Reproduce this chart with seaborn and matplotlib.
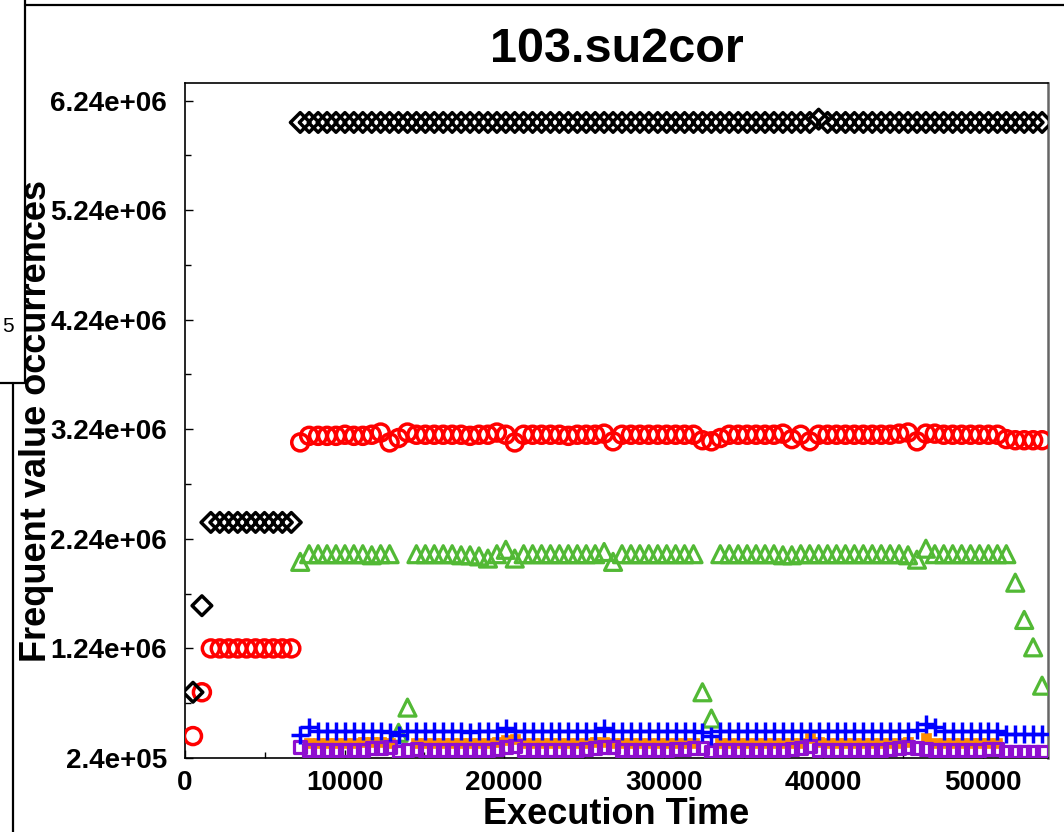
import numpy as np
import matplotlib
matplotlib.use("Agg")
import matplotlib.pyplot as plt
from matplotlib.lines import Line2D
import seaborn as sns

nan = float("nan")

# sample times (execution time)
time = [500, 1060, 1620, 2180, 2740, 3300, 3860, 4420, 4980, 5540, 6100, 6660,
        7220, 7780, 8340, 8900, 9460, 10020, 10580, 11140, 11700, 12260, 12820, 13380,
        13940, 14500, 15060, 15620, 16180, 16740, 17300, 17860, 18420, 18980, 19540, 20100,
        20660, 21220, 21780, 22340, 22900, 23460, 24020, 24580, 25140, 25700, 26260, 26820,
        27380, 27940, 28500, 29060, 29620, 30180, 30740, 31300, 31860, 32420, 32980, 33540,
        34100, 34660, 35220, 35780, 36340, 36900, 37460, 38020, 38580, 39140, 39700, 40260,
        40820, 41380, 41940, 42500, 43060, 43620, 44180, 44740, 45300, 45860, 46420, 46980,
        47540, 48100, 48660, 49220, 49780, 50340, 50900, 51460, 52020, 52580, 53140, 53700]

# values in millions of occurrences
black = [0.84, 1.63, 2.39, 2.39, 2.39, 2.39, 2.39, 2.39, 2.39, 2.39, 2.39, 2.39,
         6.04, 6.04, 6.04, 6.04, 6.04, 6.04, 6.04, 6.04, 6.04, 6.04, 6.04, 6.04,
         6.04, 6.04, 6.04, 6.04, 6.04, 6.04, 6.04, 6.04, 6.04, 6.04, 6.04, 6.04,
         6.04, 6.04, 6.04, 6.04, 6.04, 6.04, 6.04, 6.04, 6.04, 6.04, 6.04, 6.04,
         6.04, 6.04, 6.04, 6.04, 6.04, 6.04, 6.04, 6.04, 6.04, 6.04, 6.04, 6.04,
         6.04, 6.04, 6.04, 6.04, 6.04, 6.04, 6.04, 6.04, 6.04, 6.04, 6.07, 6.04,
         6.04, 6.04, 6.04, 6.04, 6.04, 6.04, 6.04, 6.04, 6.04, 6.04, 6.04, 6.04,
         6.04, 6.04, 6.04, 6.04, 6.04, 6.04, 6.04, 6.04, 6.04, 6.04, 6.04, 6.04]

red = [0.44, 0.84, 1.24, 1.24, 1.24, 1.24, 1.24, 1.24, 1.24, 1.24, 1.24, 1.24,
       3.12, 3.18, 3.18, 3.18, 3.18, 3.19, 3.18, 3.18, 3.19, 3.21, 3.12, 3.16,
       3.21, 3.19, 3.19, 3.19, 3.19, 3.19, 3.19, 3.18, 3.19, 3.19, 3.21, 3.19,
       3.12, 3.19, 3.19, 3.19, 3.19, 3.19, 3.18, 3.19, 3.19, 3.19, 3.20, 3.13,
       3.19, 3.19, 3.19, 3.19, 3.19, 3.19, 3.19, 3.19, 3.19, 3.14, 3.13, 3.16,
       3.19, 3.19, 3.19, 3.19, 3.19, 3.19, 3.20, 3.15, 3.19, 3.13, 3.19, 3.19,
       3.19, 3.19, 3.19, 3.19, 3.19, 3.19, 3.19, 3.20, 3.21, 3.13, 3.20, 3.20,
       3.19, 3.19, 3.19, 3.19, 3.19, 3.19, 3.19, 3.15, 3.14, 3.14, 3.14, 3.14]

green = [nan, nan, nan, nan, nan, nan, nan, nan, nan, nan, nan, nan,
         2.03, 2.10, 2.10, 2.10, 2.10, 2.10, 2.10, 2.10, 2.09, 2.10, 2.10, 0.47,
         0.70, 2.10, 2.10, 2.10, 2.10, 2.10, 2.09, 2.09, 2.08, 2.06, 2.10, 2.14,
         2.06, 2.10, 2.10, 2.10, 2.10, 2.10, 2.10, 2.10, 2.10, 2.10, 2.12, 2.03,
         2.10, 2.10, 2.10, 2.10, 2.10, 2.10, 2.10, 2.10, 2.10, 0.84, 0.60, 2.10,
         2.10, 2.10, 2.10, 2.10, 2.10, 2.10, 2.09, 2.09, 2.10, 2.10, 2.10, 2.10,
         2.10, 2.10, 2.10, 2.10, 2.10, 2.10, 2.10, 2.10, 2.09, 2.05, 2.15, 2.10,
         2.10, 2.10, 2.10, 2.10, 2.10, 2.10, 2.10, 2.10, 1.84, 1.50, 1.25, 0.90]

blue = [nan, nan, nan, nan, nan, nan, nan, nan, nan, nan, nan, nan,
        0.45, 0.52, 0.49, 0.49, 0.49, 0.49, 0.49, 0.49, 0.49, 0.49, 0.48, 0.45,
        0.49, 0.49, 0.49, 0.49, 0.49, 0.49, 0.49, 0.48, 0.49, 0.49, 0.49, 0.51,
        0.49, 0.49, 0.49, 0.49, 0.49, 0.49, 0.49, 0.49, 0.49, 0.49, 0.51, 0.49,
        0.49, 0.49, 0.49, 0.49, 0.49, 0.49, 0.49, 0.49, 0.49, 0.48, 0.44, 0.49,
        0.49, 0.49, 0.49, 0.49, 0.49, 0.49, 0.49, 0.49, 0.49, 0.49, 0.49, 0.49,
        0.49, 0.49, 0.49, 0.49, 0.49, 0.49, 0.49, 0.49, 0.49, 0.50, 0.55, 0.52,
        0.49, 0.49, 0.49, 0.49, 0.49, 0.49, 0.49, 0.46, 0.46, 0.46, 0.46, 0.46]

orange = [nan, nan, nan, nan, nan, nan, nan, nan, nan, nan, nan, nan,
          nan, 0.38, 0.38, 0.38, 0.38, 0.38, 0.38, 0.39, 0.39, 0.39, 0.38, nan,
          nan, 0.38, 0.38, 0.38, 0.38, 0.38, 0.38, 0.38, 0.38, 0.38, 0.39, 0.40,
          0.41, 0.38, 0.38, 0.38, 0.38, 0.38, 0.38, 0.38, 0.38, 0.39, 0.39, 0.38,
          0.38, 0.38, 0.38, 0.38, 0.38, 0.38, 0.38, 0.38, 0.38, nan, nan, 0.38,
          0.38, 0.38, 0.38, 0.38, 0.38, 0.38, 0.38, 0.38, 0.38, 0.42, 0.39, 0.38,
          0.38, 0.38, 0.38, 0.38, 0.38, 0.38, 0.38, 0.38, 0.39, nan, 0.42, 0.38,
          0.38, 0.38, 0.38, 0.38, 0.38, 0.38, 0.38, nan, nan, nan, nan, nan]

purple = [nan, nan, nan, nan, nan, nan, nan, nan, nan, nan, nan, nan,
          0.34, 0.31, 0.31, 0.31, 0.31, 0.31, 0.31, 0.31, 0.33, 0.33, 0.34, 0.30,
          0.31, 0.32, 0.31, 0.31, 0.31, 0.31, 0.31, 0.31, 0.31, 0.31, 0.32, 0.34,
          0.35, 0.31, 0.31, 0.31, 0.31, 0.31, 0.31, 0.31, 0.32, 0.33, 0.34, 0.34,
          0.31, 0.31, 0.31, 0.31, 0.31, 0.31, 0.32, 0.32, 0.33, 0.33, 0.30, 0.31,
          0.31, 0.31, 0.31, 0.31, 0.31, 0.31, 0.31, 0.32, 0.33, 0.35, 0.31, 0.31,
          0.31, 0.31, 0.31, 0.31, 0.31, 0.31, 0.32, 0.33, 0.34, 0.33, 0.32, 0.31,
          0.31, 0.31, 0.31, 0.31, 0.31, 0.32, 0.32, 0.30, 0.30, 0.30, 0.30, 0.30]

y_ticks = [0.24, 1.24, 2.24, 3.24, 4.24, 5.24, 6.24]
y_tick_labels = ["2.4e+05", "1.24e+06", "2.24e+06", "3.24e+06", "4.24e+06", "5.24e+06", "6.24e+06"]
x_ticks = [0, 10000, 20000, 30000, 40000, 50000]
x_tick_labels = ["0", "10000", "20000", "30000", "40000", "50000"]

title = "103.su2cor"
x_label = "Execution Time"
y_label = "Frequent value occurrences"

sns.set_style("ticks")
plt.rcParams["font.family"] = ["Liberation Sans", "DejaVu Sans"]
plt.rcParams["font.weight"] = "bold"
plt.rcParams["text.color"] = "black"
plt.rcParams["axes.labelcolor"] = "black"
plt.rcParams["xtick.color"] = "black"
plt.rcParams["ytick.color"] = "black"

fig = plt.figure(figsize=(10.64, 8.32), dpi=100)
ax = fig.add_axes([185 / 1064, 1 - 758 / 832, (1048 - 185) / 1064, (758 - 83) / 832])

t = np.array(time, dtype=float)
M = 1e6

series = [
    (green, "^", "#52B935", 150, "none", 2.3),
    (orange, "s", "#FF8C00", 55, "fill", 0.5),
    (purple, "s", "#8F0FCF", 72, "none", 2.3),
    (blue, "+", "#0000FF", 150, "plus", 2.5),
    (red, "o", "#FF0000", 150, "none", 2.5),
    (black, "D", "#000000", 100, "none", 2.5),
]

for vals, mk, col, size, kind, lw in series:
    y = np.array(vals, dtype=float) * M
    if kind == "fill":
        sns.scatterplot(x=t, y=y, marker=mk, s=size, color=col, edgecolor=col,
                        linewidth=lw, ax=ax, zorder=3)
    elif kind == "plus":
        sns.scatterplot(x=t, y=y, marker=mk, s=size, color=col, linewidth=lw,
                        ax=ax, zorder=3)
    else:
        sns.scatterplot(x=t, y=y, marker=mk, s=size, facecolor="none",
                        edgecolor=col, linewidth=lw, ax=ax, zorder=3)

ax.set_xlim(0, 54070)
ax.set_ylim(0.24 * M, 6.40 * M)

ax.set_yticks([v * M for v in y_ticks])
ax.set_yticklabels(y_tick_labels)
ax.set_yticks([(v + 0.5) * M for v in y_ticks[:-1]], minor=True)
ax.set_xticks(x_ticks)
ax.set_xticklabels(x_tick_labels)
ax.set_xticks([5000, 15000, 25000, 35000, 45000], minor=True)

ax.tick_params(axis="both", which="both", direction="in", colors="black")
ax.tick_params(axis="both", which="major", length=6, width=1.0, labelsize=20)
ax.tick_params(axis="both", which="minor", length=4, width=1.0)
ax.tick_params(axis="y", which="major", pad=13)
ax.tick_params(axis="x", which="major", pad=9)
for lab in ax.get_xticklabels() + ax.get_yticklabels():
    lab.set_fontweight("bold")
    lab.set_color("black")

for sp in ax.spines.values():
    sp.set_visible(True)
    sp.set_color("black")
    sp.set_linewidth(1.2)
ax.spines["right"].set_color("#666666")
ax.spines["right"].set_linewidth(1.8)

ax.set_title(title, fontsize=35, fontweight="bold", pad=15, color="black")
ax.set_xlabel(x_label, fontsize=26, fontweight="bold", color="black")
ax.set_ylabel(y_label, fontsize=26, fontweight="bold", color="black")
ax.xaxis.set_label_coords(0.5, -0.058)
ax.yaxis.set_label_coords(-0.152, 0.5)

# page-frame remnants around the cropped chart
def px_line(x0, y0, x1, y1, lw=1.6):
    fig.add_artist(Line2D([x0 / 1064, x1 / 1064], [1 - y0 / 832, 1 - y1 / 832],
                          transform=fig.transFigure, color="black", linewidth=lw))

px_line(25, 5, 1064, 5)
px_line(25, 0, 25, 383)
px_line(0, 383, 25, 383)
px_line(13, 383, 13, 832)
fig.text(2 / 1064, 1 - 326 / 832, "5", ha="left", va="center", fontsize=15,
         fontweight="normal", color="black")

fig.savefig("out.png", dpi=100)
